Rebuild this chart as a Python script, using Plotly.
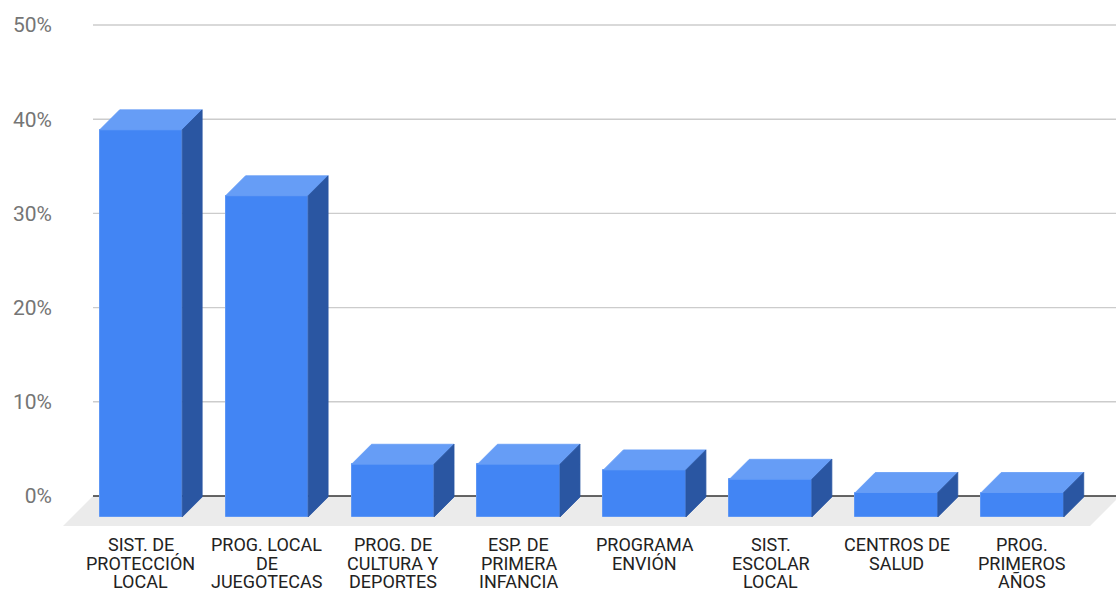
import plotly.graph_objects as go

# Categories (one entry per bar, "\n" separates the printed lines)
categories = [
    "SIST. DE\nPROTECCIÓN\nLOCAL",
    "PROG. LOCAL\nDE\nJUEGOTECAS",
    "PROG. DE\nCULTURA Y\nDEPORTES",
    "ESP. DE\nPRIMERA\nINFANCIA",
    "PROGRAMA\nENVIÓN",
    "SIST.\nESCOLAR\nLOCAL",
    "CENTROS DE\nSALUD",
    "PROG.\nPRIMEROS\nAÑOS",
]
# Share of responses per program (%)
values = [41.1, 34.1, 5.6, 5.6, 5.0, 4.0, 2.6, 2.6]
# Y axis ticks (%)
y_ticks = [0, 10, 20, 30, 40, 50]

# ---- layout geometry -------------------------------------------------------
W, H = 1116, 591
M_L, M_R, M_T, M_B = 63, 0, 15, 65
PX_X = 125.94          # pixels per category step
PX_Y = 9.42            # pixels per percentage point
X_BACK0 = 161.9        # pixel of category 0 on the back plane

x_lo = (M_L - X_BACK0) / PX_X
x_hi = x_lo + (W - M_L - M_R) / PX_X
y_lo = -(H - M_B - 496) / PX_Y
y_hi = y_lo + (H - M_T - M_B) / PX_Y

# depth (in pixels) -> offsets in data units (oblique projection: left & down)
def dx(d):
    return -d / PX_X

def dy(d):
    return -d / PX_Y

BAR_W = 82.5 / PX_X
D_FRONT, D_BACK = 21, 1      # bar depth range
D_FLOOR = 30                 # floor depth
FLOOR_L, FLOOR_R = -0.547, len(categories) - 1 + 0.608

C_FRONT = "#4285f4"
C_TOP = "#669df6"
C_SIDE = "#2a56a2"

fig = go.Figure()

# floor (drawn beneath everything)
fx = [FLOOR_L, FLOOR_R, FLOOR_R + dx(D_FLOOR), FLOOR_L + dx(D_FLOOR)]
fy = [0, 0, dy(D_FLOOR), dy(D_FLOOR)]
floor_path = "M " + " L ".join(f"{a},{b}" for a, b in zip(fx, fy)) + " Z"
fig.add_shape(type="path", path=floor_path, xref="x", yref="y", layer="below",
              fillcolor="#ebebeb", line=dict(width=0))

# gridlines on the back wall
for t in y_ticks:
    fig.add_shape(type="line", xref="x", yref="y", layer="below",
                  x0=FLOOR_L, x1=x_hi, y0=t, y1=t,
                  line=dict(color="#333333" if t == 0 else "#cccccc",
                            width=1.6 if t == 0 else 1.4))

# front faces of the bars
front_x = [i + dx(D_FRONT) for i in range(len(categories))]
fig.add_trace(go.Bar(x=front_x, y=values, base=[dy(D_FRONT)] * len(values),
                     width=BAR_W, marker=dict(color=C_FRONT,
                                              line=dict(color="#5e97f5", width=1)),
                     showlegend=False, hoverinfo="skip"))

# top and side faces
top_x, top_y, side_x, side_y = [], [], [], []
for i, v in enumerate(values):
    l = i + dx(D_FRONT) - BAR_W / 2
    r = i + dx(D_FRONT) + BAR_W / 2
    yf = v + dy(D_FRONT)
    yb = v + dy(D_BACK)
    sh = dx(D_BACK) - dx(D_FRONT)
    top_x += [l, r, r + sh, l + sh, l, None]
    top_y += [yf, yf, yb, yb, yf, None]
    side_x += [r, r + sh, r + sh, r, r, None]
    side_y += [dy(D_FRONT), dy(D_BACK), yb, yf, dy(D_FRONT), None]

fig.add_trace(go.Scatter(x=top_x, y=top_y, mode="lines", fill="toself",
                         fillcolor=C_TOP, line=dict(width=0.8, color=C_TOP),
                         hoverinfo="skip", showlegend=False))
fig.add_trace(go.Scatter(x=side_x, y=side_y, mode="lines", fill="toself",
                         fillcolor=C_SIDE, line=dict(width=0.8, color=C_SIDE),
                         hoverinfo="skip", showlegend=False))

# category labels, one annotation per printed line
LINE_H = 18.5
for i, lab in enumerate(categories):
    for k, line in enumerate(lab.split("\n")):
        fig.add_annotation(x=front_x[i], xref="x", y=0, yref="paper",
                           text=line, showarrow=False, xanchor="center",
                           yanchor="middle", yshift=-18.5 - LINE_H * k,
                           font=dict(family="Roboto", size=18, color="#222222"))

fig.update_layout(
    width=W, height=H,
    margin=dict(l=M_L, r=M_R, t=M_T, b=M_B),
    paper_bgcolor="white", plot_bgcolor="white",
    bargap=0,
    xaxis=dict(range=[x_lo, x_hi], showgrid=False, zeroline=False,
               showticklabels=False, showline=False, fixedrange=True),
    yaxis=dict(range=[y_lo, y_hi], tickvals=y_ticks,
               ticktext=[f"{t}%" for t in y_ticks],
               showgrid=False, zeroline=False, showline=False, ticks="",
               ticklabelstandoff=10,
               tickfont=dict(family="Roboto", size=21, color="#757575"),
               fixedrange=True),
    font=dict(family="Roboto"),
)

fig.write_html("out.html")
